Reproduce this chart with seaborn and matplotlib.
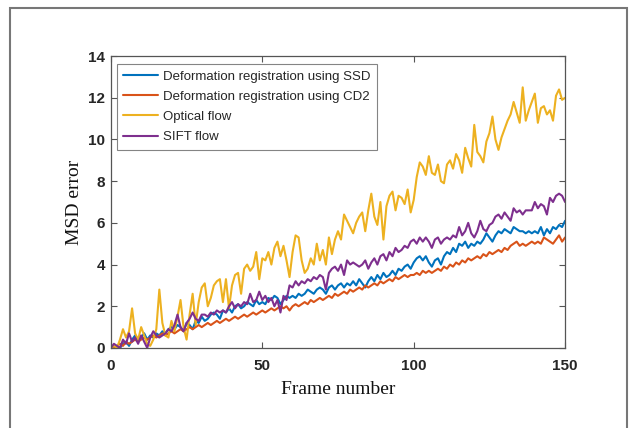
import numpy as np
import pandas as pd
import matplotlib
matplotlib.use("Agg")
import matplotlib.pyplot as plt
import seaborn as sns
from matplotlib.patches import Rectangle

frames = list(range(0, 151))

optical_flow = [
    0.0, 0.1, 0.0, 0.4, 0.9, 0.5, 0.8, 1.9, 0.7, 0.4,
    1.0, 0.6, 0.2, 0.1, 0.4, 0.9, 2.8, 1.2, 0.6, 0.5,
    1.3, 0.8, 1.5, 2.3, 1.0, 0.4, 1.6, 2.6, 1.1, 2.2,
    2.9, 3.1, 2.0, 2.4, 3.0, 3.2, 3.3, 2.2, 3.3, 1.9,
    3.0, 3.5, 3.6, 2.6, 3.8, 4.0, 3.7, 3.9, 4.6, 3.3,
    4.3, 4.2, 4.6, 4.0, 4.8, 5.1, 4.4, 4.9, 4.2, 3.4,
    4.6, 5.4, 5.3, 4.2, 3.6, 3.8, 4.3, 4.0, 5.0, 4.2,
    4.7, 4.0, 5.3, 4.5, 5.2, 5.6, 5.2, 6.4, 6.1, 5.8,
    5.5, 6.0, 6.3, 6.5, 5.6, 6.6, 7.4, 6.3, 5.9, 7.0,
    5.2, 6.8, 7.3, 7.5, 6.6, 7.3, 7.2, 6.9, 7.6, 6.5,
    7.1, 8.2, 8.9, 8.7, 8.3, 9.2, 8.4, 8.3, 8.8, 8.0,
    7.9, 8.8, 9.0, 8.6, 9.3, 9.0, 8.4, 9.6, 9.1, 8.7,
    10.7, 9.4, 9.2, 8.9, 9.9, 10.3, 11.1, 10.0, 9.5, 10.1,
    10.5, 10.9, 11.2, 11.8, 11.3, 10.8, 12.5, 10.9, 11.4, 11.8,
    12.2, 10.8, 11.5, 11.6, 11.2, 11.4, 10.9, 12.1, 12.4, 11.9,
    12.0,
]

sift_flow = [
    0.0, 0.2, 0.1, 0.0, 0.4, 0.2, 0.7, 0.3, 0.5, 0.2,
    0.6, 0.3, 0.0, 0.5, 0.8, 0.6, 0.5, 0.6, 0.7, 0.9,
    0.8, 1.1, 1.6, 1.0, 0.8, 1.2, 1.4, 1.7, 1.4, 1.3,
    1.6, 1.6, 1.5, 1.7, 1.6, 1.8, 1.7, 1.8, 1.7, 2.0,
    2.2, 1.9, 2.1, 2.0, 2.2, 2.1, 2.6, 2.2, 2.3, 2.7,
    2.3, 2.5, 2.2, 2.4, 2.0, 2.3, 1.7, 2.5, 2.3, 3.0,
    2.9, 3.2, 3.0, 3.2, 3.1, 3.3, 3.2, 3.4, 3.3, 3.5,
    3.4, 2.8, 3.6, 3.8, 3.9, 3.7, 4.0, 3.5, 4.2, 4.0,
    4.1, 4.0, 3.9, 4.0, 4.2, 3.8, 4.1, 4.3, 4.0, 4.4,
    4.5, 4.2, 4.6, 4.4, 4.8, 4.6, 4.7, 4.9, 4.8, 5.1,
    5.2, 5.0, 5.3, 5.1, 5.3, 5.1, 4.8, 5.2, 5.3, 5.0,
    5.2, 5.3, 5.2, 5.4, 5.3, 5.8, 5.4, 5.6, 6.0, 5.5,
    5.3, 5.6, 6.1, 5.7, 5.6, 5.9, 6.0, 6.3, 6.4, 6.2,
    6.5, 6.3, 6.1, 6.7, 6.5, 6.6, 6.4, 6.6, 6.6, 6.6,
    7.0, 6.7, 6.9, 6.8, 6.4, 7.2, 7.0, 7.3, 7.4, 7.3,
    7.0,
]

ssd = [
    0.0, 0.0, 0.1, 0.0, 0.2, 0.3, 0.1, 0.4, 0.6, 0.3,
    0.5, 0.7, 0.4, 0.6, 0.5, 0.7, 0.6, 0.8, 0.7, 0.9,
    1.0, 0.9, 1.1, 1.0, 0.8, 1.2, 1.1, 0.9, 1.3, 1.2,
    1.5, 1.3, 1.4, 1.6, 1.7, 1.6, 1.4, 1.8, 1.7, 1.9,
    1.7, 2.0, 2.1, 1.9, 2.0, 2.2, 2.1, 2.0, 2.3, 2.1,
    2.2, 2.1, 2.4, 2.3, 2.5, 2.4, 2.1, 2.3, 2.5, 2.4,
    2.5, 2.4, 2.6, 2.5, 2.6, 2.8, 2.7, 2.6, 2.8, 2.9,
    2.8, 2.6, 2.9, 3.0, 2.8, 3.0, 3.1, 2.9, 3.1, 3.0,
    3.2, 3.0, 3.3, 3.1, 2.9, 3.2, 3.4, 3.2, 3.5, 3.3,
    3.6, 3.4, 3.5, 3.7, 3.5, 3.8, 3.7, 3.9, 4.0, 3.8,
    4.1, 4.3, 4.4, 4.2, 4.4, 4.1, 3.9, 4.2, 4.3, 4.0,
    4.4, 4.6, 4.5, 4.8, 4.6, 5.0, 4.9, 5.1, 4.8, 5.0,
    4.9, 5.1, 5.0, 5.2, 5.5, 5.3, 5.1, 5.4, 5.6, 5.5,
    5.7, 5.6, 5.5, 5.8, 5.7, 5.6, 5.6, 5.5, 5.6, 5.5,
    5.6, 5.5, 5.8, 5.4, 5.7, 5.5, 5.8, 5.7, 5.9, 5.8,
    6.1,
]

cd2 = [
    0.0, 0.0, 0.1, 0.2, 0.1, 0.3, 0.2, 0.3, 0.4, 0.3,
    0.4, 0.5, 0.4, 0.5, 0.6, 0.5, 0.6, 0.7, 0.6, 0.7,
    0.8, 0.7, 0.8, 0.9, 0.8, 0.9, 1.0, 0.9, 1.0, 1.1,
    1.0, 1.1, 1.2, 1.1, 1.2, 1.3, 1.2, 1.3, 1.4, 1.3,
    1.4, 1.5, 1.4, 1.5, 1.6, 1.5, 1.6, 1.7, 1.6, 1.7,
    1.8, 1.7, 1.8, 1.9, 1.8, 1.9, 2.0, 1.9, 2.0, 1.8,
    2.0, 2.1, 2.0, 2.1, 2.2, 2.1, 2.3, 2.2, 2.3, 2.4,
    2.3, 2.4, 2.5, 2.4, 2.6, 2.5, 2.6, 2.7, 2.6, 2.8,
    2.7, 2.8, 2.9, 2.8, 3.0, 2.9, 3.0, 3.1, 3.0, 3.2,
    3.1, 3.2, 3.3, 3.2, 3.4, 3.3, 3.4, 3.5, 3.4, 3.5,
    3.5, 3.6, 3.5, 3.7, 3.6, 3.7, 3.6, 3.7, 3.8, 3.7,
    3.9, 3.8, 4.0, 3.9, 4.1, 4.0, 4.2, 4.1, 4.3, 4.2,
    4.3, 4.4, 4.3, 4.5, 4.4, 4.6, 4.5, 4.6, 4.7, 4.6,
    4.8, 4.7, 4.9, 5.0, 5.1, 4.9, 5.0, 4.9, 5.0, 5.1,
    5.0, 5.1, 5.0, 5.3, 5.2, 5.1, 5.0, 5.2, 5.4, 5.1,
    5.3,
]

labels = [
    "Deformation registration using SSD",
    "Deformation registration using CD2",
    "Optical flow",
    "SIFT flow",
]
colors = ["#0072BD", "#D95319", "#EDB120", "#7E2F8E"]
x_ticks = [0, 50, 100, 150]
y_ticks = [0, 2, 4, 6, 8, 10, 12, 14]

df = pd.concat([
    pd.DataFrame({"Frame": frames, "MSD": ssd, "Method": labels[0]}),
    pd.DataFrame({"Frame": frames, "MSD": cd2, "Method": labels[1]}),
    pd.DataFrame({"Frame": frames, "MSD": optical_flow, "Method": labels[2]}),
    pd.DataFrame({"Frame": frames, "MSD": sift_flow, "Method": labels[3]}),
])

sns.set_style("white")
plt.rcParams["font.family"] = ["Liberation Sans", "DejaVu Sans"]

fig = plt.figure(figsize=(6.3, 4.28), dpi=100)
ax = fig.add_axes([0.176, 0.187, 0.721, 0.682])

sns.lineplot(data=df, x="Frame", y="MSD", hue="Method", hue_order=labels,
             palette=colors, linewidth=1.5, ax=ax, estimator=None, sort=False)

ax.set_xlim(0, 150)
ax.set_ylim(0, 14)
ax.set_xticks(x_ticks)
ax.set_yticks(y_ticks)
ax.tick_params(direction="in", length=4, width=0.8, color="#555555",
               top=True, right=True, bottom=True, left=True,
               labelsize=11, pad=4)
ax.tick_params(axis="x", pad=8)
for lab in ax.get_xticklabels() + ax.get_yticklabels():
    lab.set_fontweight("bold")
    lab.set_color("#262626")
for s in ax.spines.values():
    s.set_visible(True)
    s.set_color("#555555")
    s.set_linewidth(0.9)

ax.set_xlabel("Frame number", family=["Liberation Serif", "DejaVu Serif"],
              fontsize=14, color="#111111", labelpad=6)
ax.set_ylabel("MSD error", family=["Liberation Serif", "DejaVu Serif"],
              fontsize=14, color="#111111", labelpad=4)

leg = ax.legend(loc="upper left", bbox_to_anchor=(0.013, 0.973),
                frameon=True, fancybox=False, fontsize=9.5,
                handlelength=2.6, handletextpad=0.4, borderpad=0.5,
                labelspacing=0.6, borderaxespad=0.0)
leg.get_frame().set_edgecolor("#666666")
leg.get_frame().set_linewidth(0.8)
for t in leg.get_texts():
    t.set_color("#262626")

fig.patches.append(Rectangle((10 / 630, -0.05), 617 / 630, 1 - 8 / 428 + 0.05,
                             transform=fig.transFigure, fill=False,
                             edgecolor="#777777", linewidth=1.5))

fig.savefig("out.png", dpi=100)
